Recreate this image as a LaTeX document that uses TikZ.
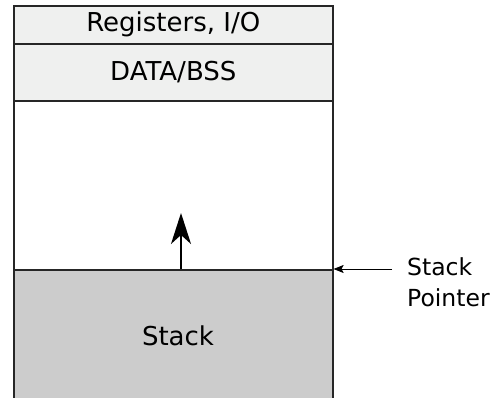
\documentclass[tikz,border=0pt]{standalone}
\usepackage{fontspec}
\setmainfont{DejaVu Sans}
\usetikzlibrary{arrows.meta}
\definecolor{rowgray}{HTML}{EFF0EF}
\definecolor{stackgray}{HTML}{CCCCCC}
\begin{document}
\begin{tikzpicture}[x=1pt,y=1pt,
  memrow/.style={draw=black!85, line width=1.6pt, rectangle, anchor=north west,
    minimum width=319pt, inner sep=0pt, font=\fontsize{26}{30}\selectfont},
  growarrow/.style={line width=1.8pt, -{Stealth[length=31pt,width=20pt,inset=9pt]}},
  ptrarrow/.style={line width=0.8pt, -{Stealth[length=10pt,width=8pt,inset=2pt]}}]
\useasboundingbox (0,0) rectangle (496,398);
\begin{scope}
\clip (0,0) rectangle (496,398);
\node[memrow, fill=stackgray, minimum height=140pt] (stack) at (13,129) {};
\node[font=\fontsize{26}{30}\selectfont] (stacktext) at (178,62) {Stack};
\node[memrow, fill=white, minimum height=169pt] (free) at (13,298) {};
\node[memrow, fill=rowgray, minimum height=57pt] (data) at (13,355) {DATA/BSS};
\node[memrow, fill=rowgray, minimum height=38pt] (reg) at (13,393) {Registers, I/O};
\end{scope}
\coordinate (growbase) at (181,129);
\coordinate (growtip) at (181,185);
\draw[growarrow] (growbase) -- (growtip);
\coordinate (ptrstart) at (392,129);
\draw[ptrarrow] (ptrstart) -- (stack.north east);
\node[anchor=north west, align=left, inner sep=0pt, font=\fontsize{23.5}{31}\selectfont] (sptext) at (407,141) {Stack\\Pointer};
\end{tikzpicture}
\end{document}
